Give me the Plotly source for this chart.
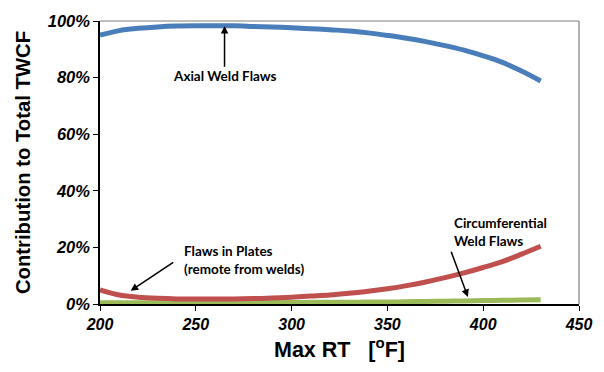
import plotly.graph_objects as go

rt = [200, 210, 220, 230, 240, 250, 260, 270, 280, 290, 300, 310, 320, 330, 340, 350, 360, 370, 380, 390, 400, 410, 420, 430]
axial = [95.0, 96.6, 97.4, 97.9, 98.2, 98.3, 98.3, 98.3, 98.1, 97.9, 97.6, 97.3, 96.9, 96.5, 95.8, 94.9, 93.9, 92.7, 91.3, 89.7, 87.7, 85.4, 82.3, 78.8]
plates = [5.0, 3.2, 2.4, 2.0, 1.8, 1.8, 1.8, 1.8, 1.9, 2.1, 2.4, 2.8, 3.2, 3.8, 4.5, 5.4, 6.5, 7.8, 9.3, 11.0, 12.9, 15.0, 17.6, 20.4]
circ = [0.4, 0.4, 0.4, 0.4, 0.4, 0.4, 0.4, 0.4, 0.5, 0.5, 0.5, 0.6, 0.6, 0.6, 0.7, 0.7, 0.8, 0.9, 1.0, 1.1, 1.2, 1.3, 1.4, 1.5]

x_ticks = [200, 250, 300, 350, 400, 450]
y_ticks = [0, 20, 40, 60, 80, 100]
y_labels = ["0%", "20%", "40%", "60%", "80%", "100%"]

fig = go.Figure()
fig.add_trace(go.Scatter(x=rt, y=circ, mode="lines", line=dict(color="#9BBB59", width=5, shape="spline"), cliponaxis=False))
fig.add_trace(go.Scatter(x=rt, y=plates, mode="lines", line=dict(color="#C0504D", width=5, shape="spline"), cliponaxis=False))
fig.add_trace(go.Scatter(x=rt, y=axial, mode="lines", line=dict(color="#4A7EBB", width=5, shape="spline"), cliponaxis=False))

ann_font = dict(family="Lato", size=13.5, color="black")
fig.add_annotation(x=265, y=98.2, ax=265, ay=80.5, axref="x", ayref="y", text="<b>Axial Weld Flaws</b>",
                   showarrow=True, arrowhead=2, arrowsize=1, arrowwidth=1.5, arrowcolor="black",
                   font=ann_font, standoff=0, startstandoff=0)
fig.add_annotation(x=216, y=4.7, ax=239, ay=15.1, axref="x", ayref="y", text="", showarrow=True,
                   arrowhead=2, arrowsize=1, arrowwidth=1.5, arrowcolor="black")
fig.add_annotation(x=243, y=15.5, text="<b>Flaws in Plates<br>(remote from welds)</b>", showarrow=False,
                   font=ann_font, xanchor="left", yanchor="middle", align="left")
fig.add_annotation(x=392, y=2.5, ax=383, ay=19, axref="x", ayref="y", text="", showarrow=True,
                   arrowhead=2, arrowsize=1, arrowwidth=1.5, arrowcolor="black")
fig.add_annotation(x=383.5, y=25.5, text="<b>Circumferential<br>Weld Flaws</b>", showarrow=False,
                   font=ann_font, xanchor="left", yanchor="middle", align="left")

fig.update_layout(
    width=604, height=372,
    margin=dict(l=100, r=21, t=16, b=68),
    paper_bgcolor="white", plot_bgcolor="white",
    showlegend=False,
    font=dict(family="Liberation Sans", color="black"),
    shapes=[
        dict(type="line", xref="paper", yref="paper", x0=0, x1=1, y0=1, y1=1, line=dict(color="#808080", width=1.2)),
        dict(type="line", xref="paper", yref="paper", x0=1, x1=1, y0=0, y1=1, line=dict(color="#808080", width=1.2)),
    ],
)
fig.update_xaxes(
    range=[200, 450], tickvals=x_ticks, ticktext=[f"<b><i>{v}</i></b>" for v in x_ticks],
    showgrid=False, zeroline=False, showline=True, linecolor="black", linewidth=1.5,
    ticks="outside", ticklen=5, tickcolor="black",
    tickfont=dict(family="Liberation Sans", size=16, color="black"),
    title=dict(text="<b>Max RT   [<sup>o</sup>F]</b>", font=dict(family="Liberation Sans", size=21.5, color="black"), standoff=10),
)
fig.update_yaxes(
    range=[0, 100], tickvals=y_ticks, ticktext=[f"<b><i>{t}</i></b>" for t in y_labels],
    showgrid=False, zeroline=False, showline=True, linecolor="black", linewidth=1.5,
    ticks="outside", ticklen=5, tickcolor="black",
    tickfont=dict(family="Liberation Sans", size=16.5, color="black"),
    title=dict(text="<b>Contribution to Total TWCF</b>", font=dict(family="Liberation Sans", size=20.3, color="black"), standoff=12),
)

fig.write_html("out.html", config={"displayModeBar": False},
               post_script="document.body.style.margin='0';document.body.style.overflow='hidden';")
